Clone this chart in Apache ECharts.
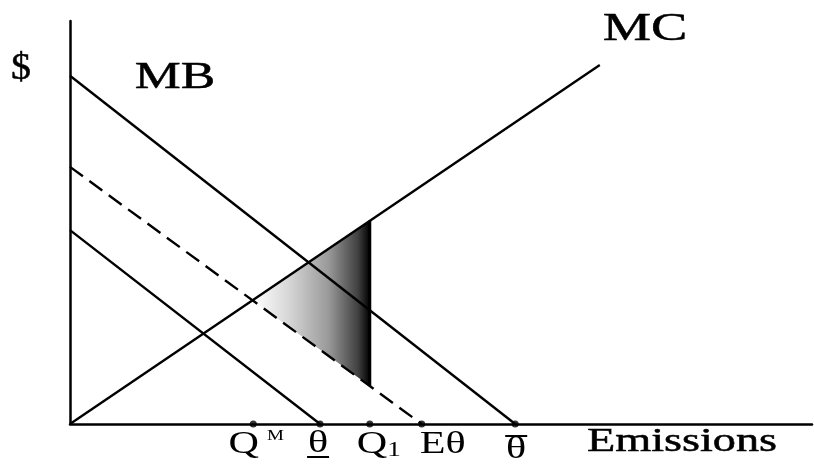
<!DOCTYPE html>
<html>
<head>
<meta charset="utf-8">
<script src="https://cdn.jsdelivr.net/npm/echarts@6/dist/echarts.min.js"></script>
<style>
html, body { margin: 0; background: #fff; }
#chart { width: 814px; height: 466px; }
</style>
</head>
<body>
<div id="chart"></div>
<script>
// curve end points in chart units (x: emissions, y: $)
const mbLine = [[0, 8.64], [6.0, 0]]
const dashedLine = [[0, 6.38], [4.74, 0]]
const lowerLine = [[0, 4.81], [3.37, 0]]
const mcLine = [[0, 0], [7.14, 8.91]]

// points marked on the emissions axis
const tickValues = [2.47, 3.37, 4.04, 4.74, 6.0]
const tickLabels = ['{q|Q}{gap|}{sup|M}', '{q|θ}', '{q|Q}{sub|1}', '{q|Eθ}', '{q|θ}']
// bar under / over the label (0 none, 1 under, -1 over)
const tickBars = [0, 1, 0, 0, -1]
const q1 = 4.04

// label anchor nudges (px) relative to the axis point
const labelShift = [3, -2, 9, 21, 1]
const labelY = [445, 444, 445, 445, 450]

const SX = 1.36
const FONT = '"Liberation Serif", "DejaVu Serif", serif'

function lineAt(line, x) {
  const [[x0, y0], [x1, y1]] = line
  return y0 + (y1 - y0) * (x - x0) / (x1 - x0)
}

function intersect(a, b) {
  const sa = (a[1][1] - a[0][1]) / (a[1][0] - a[0][0])
  const sb = (b[1][1] - b[0][1]) / (b[1][0] - b[0][0])
  const ia = a[0][1] - sa * a[0][0]
  const ib = b[0][1] - sb * b[0][0]
  const x = (ib - ia) / (sa - sb)
  return [x, sa * x + ia]
}

const apex = intersect(mcLine, dashedLine)
const wedge = [apex, [q1, lineAt(mcLine, q1)], [q1, lineAt(dashedLine, q1)]]

const chart = echarts.init(document.getElementById('chart'))

function seg(data, dashed) {
  return {
    type: 'line',
    data: data,
    showSymbol: false,
    silent: true,
    z: 3,
    lineStyle: { color: '#000', width: 2.4, type: dashed ? [16, 8] : 'solid' }
  }
}

chart.setOption({
  animation: false,
  grid: { left: 70, right: 2, top: 21, bottom: 42 },
  xAxis: {
    type: 'value', min: 0, max: 10,
    axisLine: { lineStyle: { color: '#000', width: 2.5 } },
    axisTick: { show: false }, axisLabel: { show: false }, splitLine: { show: false }
  },
  yAxis: {
    type: 'value', min: 0, max: 10,
    axisLine: { show: true, lineStyle: { color: '#000', width: 2.5 } },
    axisTick: { show: false }, axisLabel: { show: false }, splitLine: { show: false }
  },
  series: [
    {
      type: 'custom',
      silent: true,
      z: 2,
      data: [0],
      renderItem: function (params, api) {
        const pts = wedge.map(p => api.coord(p))
        return {
          type: 'group',
          children: [
            {
              type: 'polygon',
              shape: { points: pts },
              style: {
                fill: new echarts.graphic.LinearGradient(0, 0, 1, 0, [
                  { offset: 0, color: '#ffffff' },
                  { offset: 0.3, color: '#d8d8d8' },
                  { offset: 0.65, color: '#999999' },
                  { offset: 0.9, color: '#404040' },
                  { offset: 1, color: '#000000' }
                ])
              }
            },
            {
              type: 'line',
              shape: { x1: pts[1][0], y1: pts[1][1], x2: pts[2][0], y2: pts[2][1] },
              style: { stroke: '#000', lineWidth: 3 }
            }
          ]
        }
      }
    },
    seg(mbLine),
    seg(dashedLine, true),
    seg(lowerLine),
    seg(mcLine),
    {
      type: 'scatter',
      data: tickValues.map(v => [v, 0]),
      symbolSize: 7,
      itemStyle: { color: '#000' },
      silent: true,
      z: 5
    }
  ]
})

function txt(text, x, y, size, sx) {
  return {
    type: 'text', x: x, y: y, scaleX: sx || SX, silent: true,
    style: {
      text: text, fontFamily: FONT, fontSize: size, fill: '#000',
      stroke: '#000', lineWidth: 0.5,
      textAlign: 'center', textVerticalAlign: 'middle'
    }
  }
}

const rich = {
  q: { fontFamily: FONT, fontSize: 31, color: '#000', verticalAlign: 'middle' },
  gap: { width: 6 },
  sup: { fontFamily: FONT, fontSize: 14, color: '#000', verticalAlign: 'top', padding: [0, 0, 14, 0] },
  sub: { fontFamily: FONT, fontSize: 20, color: '#000', verticalAlign: 'bottom', padding: [12, 0, 0, 0] }
}

const elements = [
  txt('$', 21, 69, 38, 1.05),
  txt('MB', 175, 78, 38),
  txt('MC', 645, 29, 40),
  txt('Emissions', 682, 442, 34)
]

tickValues.forEach((v, i) => {
  const p = chart.convertToPixel({ gridIndex: 0 }, [v, 0])
  const cx = p[0] + labelShift[i]
  elements.push({
    type: 'text', x: cx, y: labelY[i], scaleX: SX, silent: true,
    style: { text: tickLabels[i], rich: rich, textAlign: 'center', textVerticalAlign: 'middle' }
  })
  if (tickBars[i]) {
    const by = tickBars[i] > 0 ? labelY[i] + 13 : labelY[i] - 14
    elements.push({
      type: 'line', silent: true,
      shape: { x1: cx - 11, y1: by, x2: cx + 11, y2: by },
      style: { stroke: '#000', lineWidth: 2 }
    })
  }
})

chart.setOption({ graphic: { elements: elements } })
</script>
</body>
</html>
